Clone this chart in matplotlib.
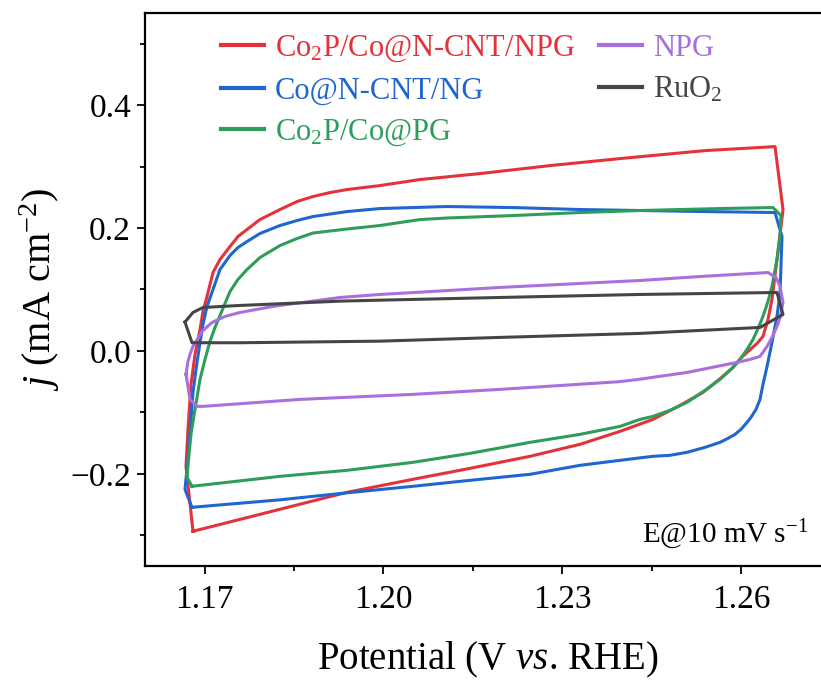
import matplotlib
matplotlib.use("Agg")
import matplotlib.pyplot as plt
from matplotlib.ticker import MultipleLocator

plt.rcParams['font.family'] = ['Liberation Serif', 'DejaVu Serif']
plt.rcParams['mathtext.fontset'] = 'custom'
plt.rcParams['mathtext.rm'] = 'Liberation Serif'
plt.rcParams['mathtext.it'] = 'Liberation Serif:italic'
plt.rcParams['mathtext.bf'] = 'Liberation Serif:bold'

# ---------------- data (closed CV loops) ----------------
labels = [r'Co$_2$P/Co@N-CNT/NPG', 'Co@N-CNT/NG', r'Co$_2$P/Co@PG', 'NPG', r'RuO$_2$']
colors = ['#E5323A', '#1F66D1', '#2E9D5A', '#A970DD', '#454545']

red_x = [1.16805, 1.16688, 1.16721, 1.16772, 1.16839, 1.16923, 1.16973, 1.17040, 1.17141,
         1.17258, 1.17426, 1.17560, 1.17711, 1.17929, 1.18265, 1.18550, 1.18818, 1.19103,
         1.19389, 1.19942, 1.20613, 1.21620, 1.22794, 1.23968, 1.25394, 1.26569,
         1.26703, 1.26653, 1.26602, 1.26518, 1.26451, 1.26367, 1.26267, 1.26007, 1.25864,
         1.25613, 1.25361, 1.24975, 1.24522, 1.23968, 1.23297, 1.22459, 1.21452, 1.20496,
         1.19389, 1.18265, 1.16805]
red_y = [-0.2935, -0.1878, -0.1276, -0.0545, -0.0057, 0.0350, 0.0642, 0.0886, 0.1276,
         0.1488, 0.1699, 0.1862, 0.1976, 0.2138, 0.2301, 0.2431, 0.2512, 0.2577,
         0.2626, 0.2691, 0.2789, 0.2886, 0.3016, 0.3130, 0.3260, 0.3325,
         0.2301, 0.1894, 0.1488, 0.0837, 0.0512, 0.0236, 0.0122, -0.0106, -0.0268,
         -0.0480, -0.0675, -0.0886, -0.1114, -0.1309, -0.1520, -0.1715, -0.1911, -0.2089,
         -0.2301, -0.2577, -0.2935]

blue_x = [1.16788, 1.16671, 1.16721, 1.16772, 1.16805, 1.16856, 1.16923, 1.16973, 1.17040,
          1.17141, 1.17258, 1.17426, 1.17560, 1.17711, 1.17929, 1.18265, 1.18550, 1.18818,
          1.19389, 1.19942, 1.21066, 1.22173, 1.23297, 1.24304, 1.25394, 1.26569,
          1.26686, 1.26670, 1.26653, 1.26602, 1.26518, 1.26435, 1.26367, 1.26317, 1.26250,
          1.26166, 1.26099, 1.25998, 1.25898, 1.25780, 1.25646, 1.25394, 1.25093, 1.24807,
          1.24522, 1.24304, 1.23297, 1.22459, 1.21452, 1.20496, 1.19389, 1.18265, 1.16788]
blue_y = [-0.2545, -0.2252, -0.1764, -0.1114, -0.0675, -0.0301, 0.0138, 0.0431, 0.0724,
          0.1000, 0.1325, 0.1553, 0.1683, 0.1780, 0.1911, 0.2041, 0.2122, 0.2187,
          0.2268, 0.2317, 0.2350, 0.2333, 0.2301, 0.2285, 0.2268, 0.2252,
          0.1862, 0.1407, 0.0951, 0.0561, 0.0138, -0.0252, -0.0545, -0.0789, -0.0951,
          -0.1081, -0.1163, -0.1276, -0.1358, -0.1423, -0.1488, -0.1569, -0.1650, -0.1699,
          -0.1715, -0.1740, -0.1862, -0.2008, -0.2106, -0.2203, -0.2309, -0.2423, -0.2545]

green_x = [1.16788, 1.16705, 1.16738, 1.16772, 1.16839, 1.16923, 1.17007, 1.17090, 1.17174,
           1.17258, 1.17426, 1.17560, 1.17711, 1.17929, 1.18265, 1.18550, 1.18818, 1.19389,
           1.19942, 1.20613, 1.21066, 1.22173, 1.23297, 1.24304, 1.25646, 1.26535,
           1.26669, 1.26653, 1.26602, 1.26518, 1.26451, 1.26367, 1.26284, 1.26200, 1.26099,
           1.25982, 1.25830, 1.25646, 1.25394, 1.25093, 1.24807, 1.24522, 1.24304, 1.23968,
           1.23297, 1.22459, 1.21452, 1.20496, 1.19389, 1.18265, 1.16788]
green_y = [-0.2203, -0.2057, -0.1683, -0.1358, -0.0951, -0.0463, -0.0138, 0.0154, 0.0382,
           0.0577, 0.0967, 0.1163, 0.1325, 0.1520, 0.1715, 0.1829, 0.1919, 0.1984,
           0.2041, 0.2138, 0.2163, 0.2203, 0.2252, 0.2285, 0.2317, 0.2333,
           0.2203, 0.1862, 0.1488, 0.1049, 0.0805, 0.0561, 0.0366, 0.0187, 0.0024,
           -0.0138, -0.0301, -0.0463, -0.0642, -0.0837, -0.0967, -0.1065, -0.1114, -0.1228,
           -0.1358, -0.1488, -0.1667, -0.1813, -0.1943, -0.2041, -0.2203]

purple_x = [1.16688, 1.16721, 1.16755, 1.16805, 1.16889, 1.16956, 1.17124, 1.17342, 1.17594,
            1.18147, 1.19271, 1.19942, 1.20613, 1.21956, 1.23297, 1.24304, 1.25311, 1.26451,
            1.26586, 1.26653, 1.26703, 1.26653, 1.26602, 1.26518, 1.26435, 1.26317, 1.26149,
            1.25931, 1.25093, 1.24304, 1.23968, 1.21956, 1.20496, 1.18600, 1.16973, 1.16872,
            1.16755, 1.16688]
purple_y = [-0.0380, -0.0171, -0.0057, 0.0073, 0.0203, 0.0317, 0.0463, 0.0561, 0.0626,
            0.0724, 0.0870, 0.0919, 0.0956, 0.1033, 0.1098, 0.1146, 0.1211, 0.1276,
            0.1195, 0.1049, 0.0789, 0.0545, 0.0398, 0.0220, 0.0073, -0.0089, -0.0138,
            -0.0187, -0.0350, -0.0460, -0.0500, -0.0626, -0.0707, -0.0789, -0.0902, -0.0902,
            -0.0789, -0.0380]

black_x = [1.16671, 1.16805, 1.16973, 1.17594, 1.19271, 1.19942, 1.21956, 1.24304, 1.26602,
           1.26703, 1.26317, 1.24304, 1.21956, 1.19942, 1.17594, 1.16789, 1.16671]
black_y = [0.0470, 0.0626, 0.0707, 0.0740, 0.0810, 0.0826, 0.0870, 0.0919, 0.0951,
           0.0593, 0.0382, 0.0285, 0.0220, 0.0159, 0.0133, 0.0133, 0.0470]

series_x = [red_x, blue_x, green_x, purple_x, black_x]
series_y = [red_y, blue_y, green_y, purple_y, black_y]

xticks = [1.17, 1.20, 1.23, 1.26]
xtick_labels = ['1.17', '1.20', '1.23', '1.26']
yticks = [-0.2, 0.0, 0.2, 0.4]

# ---------------- figure ----------------
fig = plt.figure(figsize=(8.21, 6.82), dpi=100)
ax = fig.add_axes([0.1766, 0.1701, 0.835, 0.8109])

for xs, ys, c, lab in zip(series_x, series_y, colors, labels):
    ax.plot(xs, ys, color=c, lw=2.2, label=lab, solid_joinstyle='round')

ax.set_xlim(1.16, 1.275)
ax.set_ylim(-0.35, 0.55)
ax.set_xticks(xticks)
ax.set_xticklabels(xtick_labels)
ax.set_yticks(yticks)
ax.xaxis.set_minor_locator(MultipleLocator(0.015))
ax.yaxis.set_minor_locator(MultipleLocator(0.1))
ax.tick_params(axis='both', which='major', direction='out', length=6, width=1.3,
               labelsize=24, top=False, right=False)
ax.tick_params(axis='x', which='major', pad=7)
ax.tick_params(axis='y', which='major', pad=4)
ax.tick_params(axis='both', which='minor', direction='out', length=3.5, width=1.3,
               top=False, right=False)
for s in ax.spines.values():
    s.set_linewidth(1.6)

ax.set_xlabel(r'Potential (V $\mathit{vs}$. RHE)', fontsize=28, labelpad=18)
ax.set_ylabel(r'$j$ (mA cm$^{-2}$)', fontsize=29, labelpad=6)

leg = ax.legend(ncol=2, frameon=False, loc='upper left', bbox_to_anchor=(0.089, 0.99),
                fontsize=22, handlelength=1.4, handletextpad=0.35, labelspacing=0.4,
                columnspacing=0.8, borderpad=0, labelcolor='linecolor')
for h in leg.get_lines():
    h.set_linewidth(3)

ax.text(0.967, 0.043, r'E@10 mV s$^{-1}$', transform=ax.transAxes, fontsize=21,
        ha='right', va='baseline')

fig.savefig('out.png', dpi=100)
